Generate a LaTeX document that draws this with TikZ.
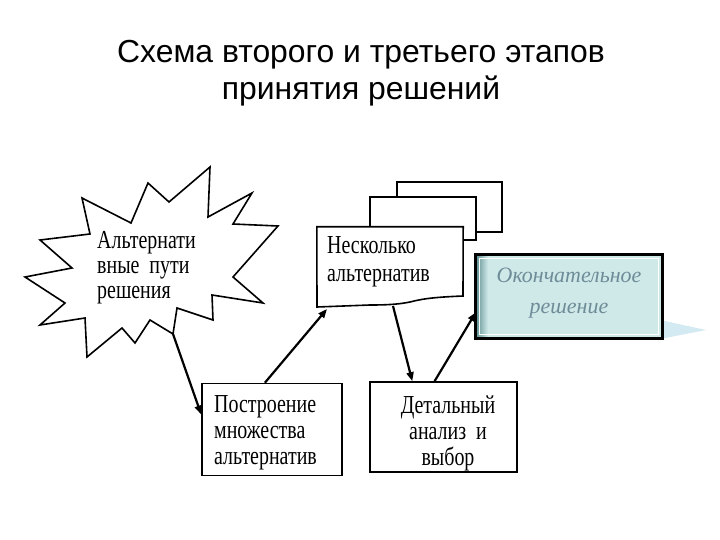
\documentclass[tikz,border=0pt]{standalone}
\usepackage{fontspec}
\setmainfont{Liberation Serif}
\newfontfamily\titlefont{Liberation Sans}
\newfontfamily\narrowserif[FakeStretch=0.77]{Liberation Serif}
\usetikzlibrary{arrows.meta,calc}
\definecolor{finalfill}{HTML}{CFE8E8}
\definecolor{finaltext}{HTML}{6E8C98}
\definecolor{finalstrip}{HTML}{5F8F90}
\definecolor{glow}{HTML}{D3EAF2}
\tikzset{
  bodytext/.style={font=\narrowserif\fontsize{26}{26}\selectfont, inner sep=0pt},
  plainbox/.style={draw=black, line width=1.6bp, fill=white, inner sep=0pt},
  conn/.style={line width=2.2bp, -{Triangle[length=9bp,width=7bp]}},
}
\begin{document}
\begin{tikzpicture}[x=1bp,y=-1bp]
\useasboundingbox[fill=white] (0,0) rectangle (720,540);

% title (anchor base = baseline of last line)
\node[font=\titlefont\fontsize{32}{38}\selectfont, align=center, anchor=base, inner sep=0pt] (title) at (361,100)
  {Схема второго и третьего этапов\\принятия решений};

% starburst
\draw[line width=1.6bp, fill=white, line join=miter]
  (278,226) -- (233,277) -- (263,303) -- (212,295) -- (213,320) -- (177,308)
  -- (173,334) -- (150,320) -- (135,343) -- (122,328) -- (87,357) -- (85,318)
  -- (40,325) -- (65,303) -- (25,277) -- (72,268) -- (40,240) -- (90,234)
  -- (82,198) -- (131,223) -- (148,183) -- (169,202) -- (210,167) -- (208,217)
  -- (252,193) -- (233,224) -- cycle;
\coordinate (startip) at (173,334);
\node[bodytext, font=\narrowserif\fontsize{26}{25}\selectfont, align=left, anchor=base west] (alt) at (97,298)
  {Альтернати\\вные\ \ пути\\решения};

% stacked boxes
\draw[line width=1.2bp, fill=white] (397,182) rectangle (502,232);
\draw[line width=2bp, fill=white] (370,197) rectangle (476,240);
\node[inner sep=0pt, minimum width=146bp, minimum height=73bp] (nk) at (390,263.5) {};
\draw[line width=1.6bp, fill=white]
  (nk.north west) -- (nk.north east) -- (463,296)
  .. controls (440,297) and (425,298) .. (410,302)
  .. controls (400,304) and (390,305) .. (370,305)
  -- (317,307) -- cycle;
\coordinate (nkA) at (327,309);
\coordinate (nkB) at (393,306);
\node[bodytext, font=\narrowserif\fontsize{26}{29}\selectfont, align=left, anchor=base west] (nktext) at (327,282)
  {Несколько\\альтернатив};

% final decision box
\fill[glow] (660,320) -- (706,330) -- (660,339) -- cycle;
\node[inner sep=0pt, minimum width=186bp, minimum height=83bp, fill=finalfill] (o) at (569,296.5) {};
\shade[left color=finalstrip, right color=finalfill] (o.north west) rectangle ([xshift=12bp]o.south west);
\draw[white, line width=1.2bp] ([xshift=3.5bp,yshift=-3.5bp]o.north west) rectangle ([xshift=-3.5bp,yshift=3.5bp]o.south east);
\draw[black, line width=3bp] (o.north west) rectangle (o.south east);
\node[font=\itshape\fontsize{22}{31}\selectfont, text=finaltext, align=center, anchor=base, inner sep=0pt] (otext) at (569,313)
  {Окончательное\\решение};

% bottom boxes
\node[plainbox, minimum width=140bp, minimum height=92bp] (p) at (272,429.5) {};
\node[bodytext, align=left, anchor=base west] (ptext) at (214,464)
  {Построение\\множества\\альтернатив};
\node[plainbox, minimum width=147bp, minimum height=90bp] (d) at (443.5,427) {};
\node[bodytext, align=center, anchor=base] (dtext) at (448,465)
  {Детальный\\анализ\ \ и\\выбор};

% connectors
\draw[conn] (startip) -- ($(p.north west)!0.34!(p.south west)$);
\draw[conn] ($(p.north west)!0.45!(p.north east)$) -- (nkA);
\draw[conn] (nkB) -- ($(d.north west)!0.29!(d.north east)$);
\draw[conn] ($(d.north west)!0.44!(d.north east)$) -- ($(o.north west)!0.69!(o.south west)$);
\end{tikzpicture}
\end{document}
